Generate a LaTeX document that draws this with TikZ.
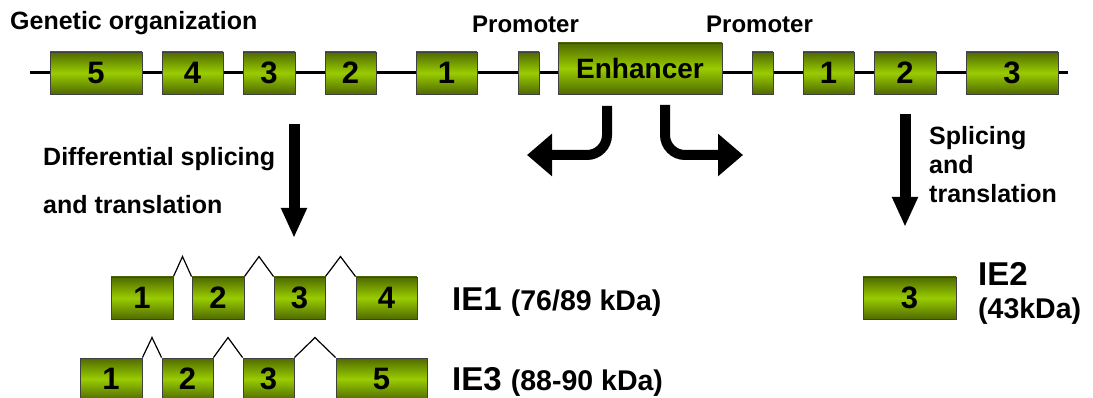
\documentclass[tikz,border=0pt]{standalone}
\usepackage{fontspec}
\setmainfont{Liberation Sans}
\usetikzlibrary{arrows.meta,positioning,calc}

\definecolor{exondark}{RGB}{80,106,0}
\definecolor{exonlight}{RGB}{153,204,0}
\newcommand{\kdasize}{\fontsize{28.5}{30}\selectfont}

\begin{document}
\begin{tikzpicture}[
  x=1pt, y=-1pt,
  gline/.style={line width=3pt},
  splice/.style={line width=1.2pt, line join=miter},
  exon/.style={
    draw=black!75, line width=0.9pt, inner sep=0pt,
    top color=exondark, bottom color=exondark, middle color=exonlight,
    minimum height=42pt,
    font=\bfseries\fontsize{31}{33}\selectfont
  },
  lbl/.style={anchor=base west, inner sep=0pt,
    font=\bfseries\fontsize{25}{27}\selectfont},
  ielbl/.style={anchor=base west, inner sep=0pt,
    font=\bfseries\fontsize{33}{35}\selectfont},
  bigarrow/.style={line width=11pt, -{Triangle[length=30pt,width=24pt]}},
  bendarrow/.style={line width=10pt, rounded corners=20pt,
    -{Triangle[length=25pt,width=41pt]}}
]
\path[use as bounding box, fill=white] (0,0) rectangle (1093,398);

% Gene backbone
\coordinate (lineL) at (30,73);
\coordinate (lineR) at (1068,73);
\draw[gline] (lineL) -- (lineR);

% Genetic organization: exons
\node[exon, minimum width=92pt] (g5) at (96,73) {5};
\node[exon, minimum width=61pt] (g4) at (192.5,73) {4};
\node[exon, minimum width=52pt] (g3) at (269,73) {3};
\node[exon, minimum width=51pt] (g2) at (350.5,73) {2};
\node[exon, minimum width=61pt] (g1) at (446.5,73) {1};
\node[exon, minimum width=21pt] (pA) at (528.5,73) {};
\node[exon, minimum width=164pt, minimum height=51pt,
  font=\bfseries\fontsize{28}{30}\selectfont] (enh) at (640,68.5) {Enhancer};
\node[exon, minimum width=21pt] (pB) at (762.5,73) {};
\node[exon, minimum width=51pt] (h1) at (828.5,73) {1};
\node[exon, minimum width=62pt] (h2) at (905,73) {2};
\node[exon, minimum width=92pt] (h3) at (1012,73) {3};

% Top labels
\node[lbl] (title) at (10,30) {Genetic organization};
\node[lbl, font=\bfseries\fontsize{24}{26}\selectfont] (prom1) at (472,33) {Promoter};
\node[lbl, font=\bfseries\fontsize{24}{26}\selectfont] (prom2) at (706,33) {Promoter};

% Bidirectional enhancer arrows
\coordinate (eL) at (607,106);
\coordinate (eLend) at (527,155);
\coordinate (eR) at (665,105);
\coordinate (eRend) at (743,155);
\draw[bendarrow] (eL) |- (eLend);
\draw[bendarrow] (eR) |- (eRend);

% Down arrows and side labels
\coordinate (dL1) at (294,124);
\coordinate (dL2) at (294,238);
\coordinate (dR1) at (905,114);
\coordinate (dR2) at (905,227);
\draw[bigarrow] (dL1) -- (dL2);
\draw[bigarrow] (dR1) -- (dR2);
\node[lbl] (diff1) at (43,166) {Differential splicing};
\node[lbl] (diff2) at (43,214) {and translation};
\node[lbl] (spl1) at (929,145) {Splicing};
\node[lbl] (spl2) at (929,174) {and};
\node[lbl] (spl3) at (929,203) {translation};

% IE1 transcript
\node[exon, minimum width=62pt] (a1) at (142,298) {1};
\node[exon, minimum width=52pt] (a2) at (218,298) {2};
\node[exon, minimum width=51pt] (a3) at (299.5,298) {3};
\node[exon, minimum width=61pt] (a4) at (386.5,298) {4};

% IE3 transcript
\node[exon, minimum width=62pt] (b1) at (111,379) {1};
\node[exon, minimum width=51pt] (b2) at (187.5,379) {2};
\node[exon, minimum width=51pt] (b3) at (268.5,379) {3};
\node[exon, minimum width=91pt] (b5) at (381.5,379) {5};

% Splice junctions
\foreach \p/\q in {a1/a2,a2/a3,a3/a4,b1/b2,b2/b3,b3/b5}
  \draw[splice] (\p.north east) -- ($(\p.north east)!0.5!(\q.north west)+(0,-20)$) -- (\q.north west);

% IE2 transcript
\node[exon, minimum width=93pt] (c3) at (909.5,298) {3};

% Product labels
\node[ielbl] (ie1) at (452,310) {IE1 {\kdasize(76/89 kDa)}};
\node[ielbl] (ie3) at (452,390) {IE3 {\kdasize(88-90 kDa)}};
\node[ielbl] (ie2) at (978,286) {IE2};
\node[ielbl, font=\bfseries\kdasize] (ie2kda) at (978,318) {(43kDa)};
\end{tikzpicture}
\end{document}
